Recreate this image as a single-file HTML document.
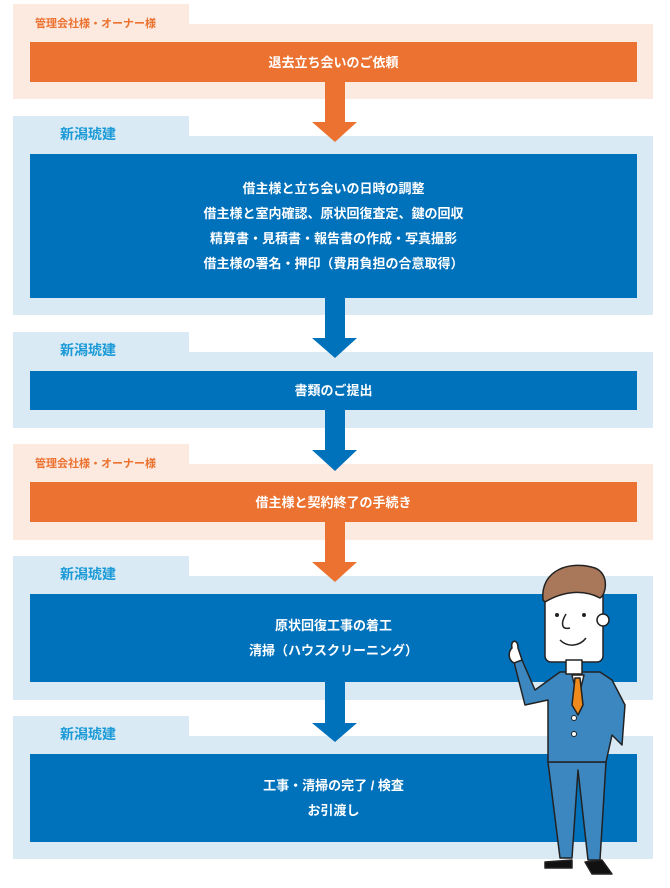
<!DOCTYPE html>
<html><head><meta charset="utf-8"><style>
*{margin:0;padding:0;box-sizing:border-box}
body{width:670px;height:888px;background:#fff;position:relative;overflow:hidden;font-family:"Liberation Sans","Noto Sans CJK JP",sans-serif;font-weight:bold}
.a{position:absolute}
.tab{left:13px;width:176px;height:24px}
.pan{left:13px;width:640px}
.bar{left:30px;width:607px;color:#fff;font-size:13px;text-align:center;display:flex;flex-direction:column;justify-content:center;line-height:25px}
.o .tab,.o .pan{background:#fce9e0}.o .bar{background:#eb7230}
.b .tab,.b .pan{background:#daeaf4}.b .bar{background:#0071bb}
.lo{color:#eb7230;font-size:11px;left:35px}
.lb{color:#1a9ad6;font-size:14px;left:60px}
</style></head><body>
<div class="o">
<div class="a tab" style="top:4px"></div><div class="a pan" style="top:24px;height:75px"></div>
<div class="a lo" style="top:15px">管理会社様・オーナー様</div>
<div class="a bar" style="top:42px;height:40px">退去立ち会いのご依頼</div>
</div>
<div class="b">
<div class="a tab" style="top:116px"></div><div class="a pan" style="top:136px;height:179px"></div>
<div class="a lb" style="top:124px">新潟琥建</div>
<div class="a bar" style="top:154px;height:144px"><div>借主様と立ち会いの日時の調整</div><div>借主様と室内確認、原状回復査定、鍵の回収</div><div>精算書・見積書・報告書の作成・写真撮影</div><div>借主様の署名・押印（費用負担の合意取得）</div></div>
</div>
<div class="b">
<div class="a tab" style="top:332px"></div><div class="a pan" style="top:352px;height:76px"></div>
<div class="a lb" style="top:340px">新潟琥建</div>
<div class="a bar" style="top:371px;height:39px">書類のご提出</div>
</div>
<div class="o">
<div class="a tab" style="top:444px"></div><div class="a pan" style="top:464px;height:76px"></div>
<div class="a lo" style="top:455px">管理会社様・オーナー様</div>
<div class="a bar" style="top:482px;height:40px">借主様と契約終了の手続き</div>
</div>
<div class="b">
<div class="a tab" style="top:556px"></div><div class="a pan" style="top:576px;height:124px"></div>
<div class="a lb" style="top:564px">新潟琥建</div>
<div class="a bar" style="top:594px;height:88px"><div>原状回復工事の着工</div><div>清掃（ハウスクリーニング）</div></div>
</div>
<div class="b">
<div class="a tab" style="top:716px"></div><div class="a pan" style="top:736px;height:123px"></div>
<div class="a lb" style="top:724px">新潟琥建</div>
<div class="a bar" style="top:754px;height:88px"><div>工事・清掃の完了 / 検査</div><div>お引渡し</div></div>
</div>
<svg class="a" style="left:0;top:0" width="670" height="888">
<g fill="#eb7230"><rect x="325" y="82" width="20" height="42"/><polygon points="312,122 357,122 335,142"/>
<rect x="325" y="522" width="20" height="42"/><polygon points="312,562 357,562 335,582"/></g>
<g fill="#0071bb"><rect x="325" y="298" width="20" height="42"/><polygon points="312,338 357,338 335,358"/>
<rect x="325" y="410" width="20" height="42"/><polygon points="312,450 357,450 335,471"/>
<rect x="325" y="682" width="20" height="43"/><polygon points="312,723 357,723 335,742"/></g>
<g stroke="#222" stroke-width="1.5" stroke-linejoin="round">
<path d="M548 762 L560 858 L572 858 L578 770 L588 860 L600 860 L606 762 Z" fill="#3d87c0"/>
<path d="M545 862 L572 860 L572 868 L545 868 Z M585 862 L602 860 L612 874 L592 874 Z" fill="#111"/>
<path d="M560 672 L535 690 L522 660 L514 662 L525 705 L548 700 L548 762 L606 762 L612 735 L622 745 L625 705 L612 680 L600 672 Z" fill="#3d87c0"/>
<path d="M572 675 L578 700 L584 675 Z" fill="#fff"/>
<path d="M575 678 L572 705 L578 715 L583 705 L580 678 Z" fill="#f08a1c"/>
<path d="M512 648 C510 640 518 638 518 648 L522 660 L514 663 C508 660 508 652 512 648 Z" fill="#fff"/>
<rect x="545" y="590" width="58" height="72" rx="6" fill="#fff"/>
<path d="M543 600 C540 570 570 560 595 568 C610 574 606 595 600 598 C585 590 565 590 545 602 Z" fill="#a9785a"/>
<circle cx="603" cy="620" r="6" fill="#fff"/>
<rect x="566" y="660" width="16" height="14" fill="#fff"/>
</g>
<g fill="#222"><circle cx="557" cy="615" r="2"/><circle cx="584" cy="615" r="2"/><circle cx="574" cy="718" r="2.5" fill="#fff" stroke="#222"/><circle cx="574" cy="734" r="2.5" fill="#fff" stroke="#222"/></g>
<path d="M560 640 C568 648 580 646 586 638" stroke="#222" stroke-width="1.5" fill="none"/>
<path d="M566 614 C560 624 562 630 570 628" stroke="#222" stroke-width="1.5" fill="none"/>
</svg>
</body></html>
